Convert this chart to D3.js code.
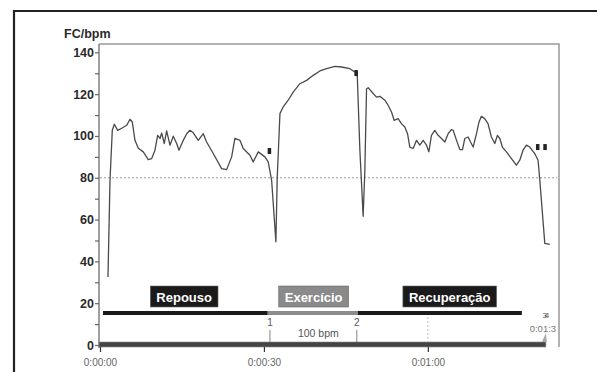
<!DOCTYPE html>
<html>
<head>
<meta charset="utf-8">
<script src="https://cdn.jsdelivr.net/npm/d3@7"></script>
<style>
  body { margin: 0; background: #fff; }
  svg { display: block; font-family: "Liberation Sans", Arial, sans-serif; }
</style>
</head>
<body>
<svg id="chart" width="597" height="372"></svg>
<script>
"use strict";

// heart rate trace (time in seconds, bpm)
const timeSec = [1.46, 1.83, 2.25, 2.62, 3.24, 3.97, 4.88, 5.49, 5.91, 6.40, 7.01, 7.92, 8.83, 9.46,
  10.06, 10.55, 10.98, 11.29, 11.76, 12.20, 12.80, 13.41, 14.03, 14.45, 15.24, 15.86, 16.46, 17.07,
  17.98, 18.90, 19.51, 20.72, 22.26, 23.18, 24.09, 24.69, 25.61, 26.21, 27.44, 28.04, 28.96, 30.18,
  30.78, 31.41, 32.19, 32.43, 32.65, 32.93, 33.53, 34.44, 35.36, 36.58, 37.81, 39.02, 40.24, 41.47,
  42.98, 44.21, 45.73, 46.64, 47.07, 47.56, 48.16, 48.47, 48.78, 49.08, 49.99, 50.60, 51.22, 52.13,
  52.73, 53.35, 53.83, 54.56, 55.17, 55.79, 56.28, 56.70, 57.31, 57.93, 58.53, 59.14, 59.76, 60.18,
  60.66, 61.27, 61.88, 62.50, 63.11, 63.71, 64.33, 64.63, 65.25, 65.85, 66.34, 66.76, 67.37, 67.81,
  68.29, 68.90, 69.36, 69.80, 70.40, 71.01, 71.63, 72.25, 72.73, 73.17, 73.64, 74.38, 75.29, 76.20,
  76.82, 77.42, 78.04, 78.65, 79.56, 80.17, 80.49, 81.40, 82.31];
const bpm = [32.5, 78.8, 102.7, 105.6, 102.7, 103.7, 105.1, 108.0, 106.7, 97.9, 94.1, 92.4, 88.7, 89.2,
  93.2, 100.3, 98.8, 101.4, 96.4, 102.4, 95.6, 99.9, 96.4, 93.2, 97.9, 101.1, 102.7, 101.5,
  97.9, 101.1, 97.1, 91.6, 84.4, 83.9, 90.0, 98.8, 97.9, 94.0, 90.8, 87.6, 92.4, 90.0,
  87.6, 78.8, 49.4, 80.0, 93.2, 110.7, 113.9, 117.1, 121.0, 125.0, 126.6, 129.0, 131.1, 132.2,
  133.3, 133.0, 132.2, 130.6, 130.0, 93.2, 61.6, 83.6, 122.6, 123.1, 120.3, 118.6, 119.0, 117.1,
  114.7, 111.5, 107.5, 108.3, 105.9, 104.3, 101.1, 94.7, 94.0, 97.9, 95.6, 97.9, 95.6, 92.4,
  100.3, 102.7, 100.3, 98.8, 97.1, 101.1, 103.1, 102.7, 97.9, 93.5, 93.5, 98.8, 99.5, 97.1,
  94.7, 101.1, 106.7, 109.4, 108.3, 105.9, 99.5, 96.4, 100.3, 98.8, 94.7, 92.4, 89.2, 86.0,
  88.4, 93.2, 95.6, 94.7, 91.6, 88.4, 78.8, 48.6, 48.1];

// event marks on the trace
const markTime = [30.96, 46.83, 80.06, 81.40];
const markBpm = [92.8, 130.1, 94.7, 94.7];

// phases
const phaseNames = ["Repouso", "Exercício", "Recuperação"];
const phaseStart = [0.55, 30.7, 47.2];
const phaseEnd = [30.7, 47.2, 77.2];
const phaseLabelAt = [15.4, 39.1, 64.0];
const phaseColors = ["#1a1a1a", "#8c8c8c", "#1a1a1a"];

// lap markers under the phase bar
const lapLabels = ["1", "2"];
const lapTime = [31.1, 47.0];

const yTicks = [0, 20, 40, 60, 80, 100, 120, 140];
const xTicks = [0, 30, 60];
const xTickLabels = ["0:00:00", "0:00:30", "0:01:00"];
const refLine = 80;
const recordEnd = 81.6;

const svg = d3.select("#chart");

const x = d3.scaleLinear().domain([0, 84]).range([100, 559]);
const y = d3.scaleLinear().domain([0, 144]).range([345, 44]);

// outer frame
svg.append("path")
  .attr("d", "M14,372 V11 H597")
  .attr("fill", "none")
  .attr("stroke", "#222")
  .attr("stroke-width", 2.2);

// plot border
svg.append("path")
  .attr("d", `M${x.range()[0] - 1},${y.range()[1]} H${x.range()[1]} V${y(0) + 2}`)
  .attr("fill", "none")
  .attr("stroke", "#999")
  .attr("stroke-width", 1.5);

// y axis
const yAxis = d3.axisLeft(y)
  .tickValues(d3.range(0, 141, 10))
  .tickSize(4)
  .tickFormat(d => yTicks.includes(d) ? d : "");
svg.append("g")
  .attr("transform", `translate(${x.range()[0] - 1},0)`)
  .call(yAxis)
  .call(g => g.select(".domain").attr("stroke", "#888").attr("stroke-width", 1.6)
    .attr("d", `M0,${y.range()[1]} V${y(0) + 3}`))
  .call(g => g.selectAll(".tick line").attr("stroke", "#666").attr("stroke-width", 1.2))
  .call(g => g.selectAll(".tick text")
    .attr("font-size", 12.5).attr("font-weight", "bold").attr("fill", "#2a2a2a")
    .attr("font-family", "Liberation Sans, Arial, sans-serif").attr("x", -5));

svg.append("text")
  .attr("x", 64).attr("y", 38)
  .attr("font-size", 12.5).attr("font-weight", "bold").attr("fill", "#2a2a2a")
  .text("FC/bpm");

// reference line
svg.append("line")
  .attr("x1", x.range()[0]).attr("x2", x.range()[1] - 2)
  .attr("y1", y(refLine)).attr("y2", y(refLine))
  .attr("stroke", "#999").attr("stroke-dasharray", "2,2");

// record bar along the time axis
svg.append("rect")
  .attr("x", x(0) - 1).attr("y", y(0) - 3)
  .attr("width", x(recordEnd) - x(0) + 1).attr("height", 5)
  .attr("fill", "#444").attr("stroke", "#888").attr("stroke-width", 0.6);

// x axis
const xAxis = d3.axisBottom(x).tickValues(xTicks).tickSize(5)
  .tickFormat((d, i) => xTickLabels[i]);
svg.append("g")
  .attr("transform", `translate(0,${y(0) + 2})`)
  .call(xAxis)
  .call(g => g.select(".domain").remove())
  .call(g => g.selectAll(".tick line").attr("stroke", "#333").attr("stroke-width", 1.2))
  .call(g => g.selectAll(".tick text")
    .attr("font-size", 10).attr("fill", "#666").attr("dy", "1.1em")
    .attr("font-family", "Liberation Sans, Arial, sans-serif"));

// dotted guide at 0:01:00
svg.append("line")
  .attr("x1", x(60)).attr("x2", x(60))
  .attr("y1", 317).attr("y2", y(0) - 3)
  .attr("stroke", "#bbb").attr("stroke-dasharray", "2,2");

// phase bars
const bar = svg.append("g");
phaseNames.forEach((name, i) => {
  bar.append("rect")
    .attr("x", x(phaseStart[i])).attr("y", 311)
    .attr("width", x(phaseEnd[i]) - x(phaseStart[i])).attr("height", 4)
    .attr("fill", phaseColors[i]);
  const lbl = bar.append("g");
  const t = lbl.append("text")
    .attr("x", x(phaseLabelAt[i])).attr("y", 301.5)
    .attr("text-anchor", "middle")
    .attr("font-size", 13).attr("font-weight", "bold").attr("fill", "#fff")
    .text(name);
  const bb = t.node().getBBox();
  lbl.insert("rect", "text")
    .attr("x", bb.x - 6).attr("y", 286)
    .attr("width", bb.width + 12).attr("height", 21)
    .attr("fill", phaseColors[i] === "#1a1a1a" ? "#1a1a1a" : "#8a8a8a")
    .attr("stroke", "#666").attr("stroke-width", 0.6);
});

// lap markers
lapLabels.forEach((lab, i) => {
  svg.append("text")
    .attr("x", x(lapTime[i])).attr("y", 326)
    .attr("text-anchor", "middle").attr("font-size", 10).attr("fill", "#555")
    .text(lab);
  svg.append("line")
    .attr("x1", x(lapTime[i])).attr("x2", x(lapTime[i]))
    .attr("y1", 330).attr("y2", y(0) - 3)
    .attr("stroke", "#666").attr("stroke-width", 0.8);
});
svg.append("text")
  .attr("x", (x(lapTime[0]) + x(lapTime[1])) / 2 + 5).attr("y", 337)
  .attr("text-anchor", "middle").attr("font-size", 10.5).attr("fill", "#555")
  .text("100 bpm");

// end markers
svg.append("text")
  .attr("x", x(recordEnd) - 1).attr("y", 318)
  .attr("text-anchor", "middle").attr("font-size", 8).attr("fill", "#555")
  .attr("letter-spacing", -2)
  .text("34");
svg.append("text")
  .attr("x", x(recordEnd) - 3).attr("y", 332)
  .attr("text-anchor", "middle").attr("font-size", 9.5).attr("fill", "#777")
  .text("0:01:3");
svg.append("path")
  .attr("d", `M${x(recordEnd) - 4},${y(0) - 3} L${x(recordEnd)},${y(0) - 12} L${x(recordEnd) + 1},${y(0) - 3} Z`)
  .attr("fill", "#aaa");

// heart rate line
const pts = timeSec.map((t, i) => [t, bpm[i]]);
svg.append("path")
  .datum(pts)
  .attr("fill", "none")
  .attr("stroke", "#4a4a4a")
  .attr("stroke-width", 1.3)
  .attr("stroke-linejoin", "round")
  .attr("d", d3.line().x(d => x(d[0])).y(d => y(d[1])));

// event squares
svg.append("g").selectAll("rect")
  .data(markTime.map((t, i) => [t, markBpm[i]]))
  .join("rect")
  .attr("x", d => x(d[0]) - 1.5).attr("y", d => y(d[1]) - 3)
  .attr("width", 3.5).attr("height", 6)
  .attr("fill", "#222");
</script>
</body>
</html>
